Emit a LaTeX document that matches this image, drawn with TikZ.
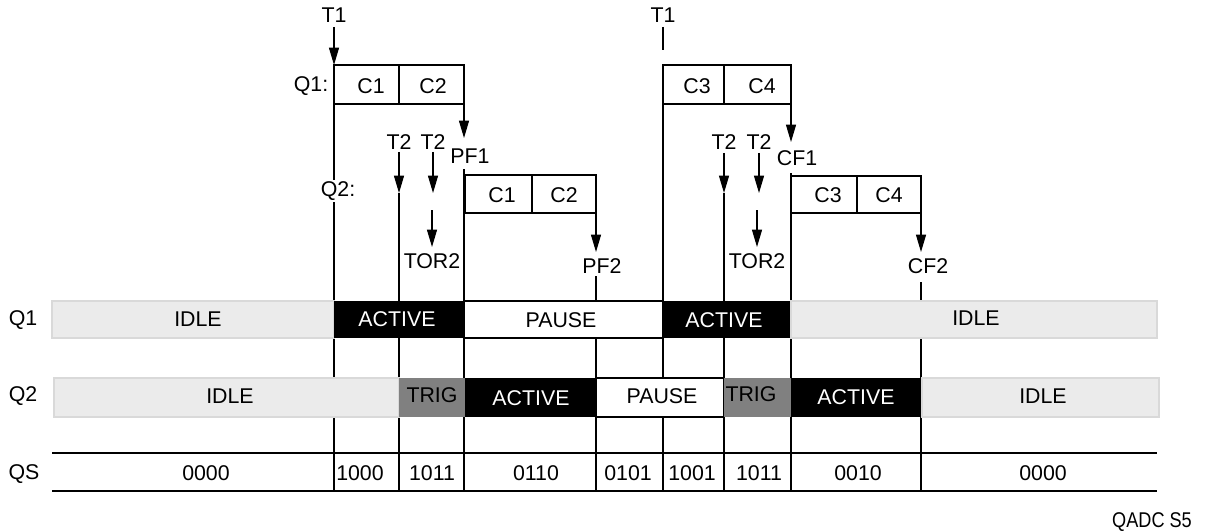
\documentclass[tikz,border=0pt]{standalone}
\usepackage{fontspec}
\setmainfont{Liberation Sans}
\usepackage{graphicx}
\usetikzlibrary{arrows.meta}
\definecolor{idlefill}{HTML}{EBEBEB}
\definecolor{idledraw}{HTML}{D9D9D9}
\definecolor{trigfill}{HTML}{808080}
\begin{document}
\begin{tikzpicture}[x=0.75pt,y=-0.75pt,
  txt/.style={font=\fontsize{16}{19}\selectfont, inner sep=0pt},
  wtxt/.style={txt, text=white},
  thinl/.style={line width=0.85pt},
  thickl/.style={line width=1.9pt},
  arr/.style={line width=0.85pt,-{Triangle[length=13pt,width=7.5pt]}},
  cellbox/.style={line width=1.4pt},
  idle/.style={fill=idlefill, draw=idledraw, line width=1.1pt},
  act/.style={fill=black},
  trig/.style={fill=trigfill},
  pausebox/.style={fill=white, draw=black, line width=1.5pt},
  rule/.style={line width=1.8pt},
]
\useasboundingbox (0,0) rectangle (1212,531);

% ---------- named coordinates ----------
\coordinate (t1aS) at (334,27);
\coordinate (q1aNW) at (334,65);
\coordinate (q1aSW) at (334,104);
\coordinate (q1aSE) at (464,104);
\coordinate (pf1tip) at (464,138);
\coordinate (pf1S) at (464,169);
\coordinate (q2aNW) at (464,175);
\coordinate (q2aSE) at (596,213);
\coordinate (pf2tip) at (596,252);
\coordinate (pf2S) at (596,276);
\coordinate (t1bS) at (663,27);
\coordinate (t1bE) at (663,50);
\coordinate (q1bSW) at (663,104);
\coordinate (q1bSE) at (791,104);
\coordinate (cf1tip) at (791,142);
\coordinate (cf1S) at (791,173);
\coordinate (q2bSE) at (921,213);
\coordinate (cf2tip) at (921,252);
\coordinate (cf2S) at (921,282);
\coordinate (t2aS) at (399,152);
\coordinate (t2aT) at (399,193);
\coordinate (t2bS) at (433,152);
\coordinate (t2bT) at (433,193);
\coordinate (tor2aS) at (432,210);
\coordinate (tor2aT) at (432,247);
\coordinate (t2cS) at (724,153);
\coordinate (t2cT) at (724,193);
\coordinate (t2dS) at (759,153);
\coordinate (t2dT) at (759,193);
\coordinate (tor2bS) at (757,210);
\coordinate (tor2bT) at (757,247);
\coordinate (b334) at (334,491);
\coordinate (b399) at (399,491);
\coordinate (b464) at (464,491);
\coordinate (b596) at (596,490);
\coordinate (b663) at (663,491);
\coordinate (b724) at (724,491);
\coordinate (b791) at (791,491);
\coordinate (b921) at (921,491);
\coordinate (qsTL) at (52,453);
\coordinate (qsTR) at (1157,453);
\coordinate (qsBL) at (52,491);
\coordinate (qsBR) at (1157,491);

% ---------- time lines ----------
\draw[thinl] (q1aSW) -- (b334);
\draw[arr] (t2aS) -- (t2aT);
\draw[thinl] (t2aT) -- (b399);
\draw[arr] (t2bS) -- (t2bT);
\draw[arr] (tor2aS) -- (tor2aT);
\draw[arr] (q1aSE) -- (pf1tip);
\draw[thickl] (pf1S) -- (b464);
\draw[arr] (q2aSE) -- (pf2tip);
\draw[thickl] (pf2S) -- (b596);
\draw[thinl] (t1bS) -- (t1bE);
\draw[thickl] (q1bSW) -- (b663);
\draw[arr] (t2cS) -- (t2cT);
\draw[thinl] (t2cT) -- (b724);
\draw[arr] (t2dS) -- (t2dT);
\draw[arr] (tor2bS) -- (tor2bT);
\draw[arr] (q1bSE) -- (cf1tip);
\draw[thinl] (cf1S) -- (b791);
\draw[arr] (q2bSE) -- (cf2tip);
\draw[thinl] (cf2S) -- (b921);
\draw[arr] (t1aS) -- (q1aNW);

% ---------- conversion boxes ----------
\draw[cellbox] (334,65) rectangle (464,104);
\draw[cellbox] (399,65) -- (399,104);
\draw[cellbox] (663,65) rectangle (791,104);
\draw[cellbox] (724,65) -- (724,104);
\draw[cellbox] (465,175) rectangle (596,213);
\draw[cellbox] (532,175) -- (532,213);
\draw[cellbox] (791,176) rectangle (921,213);
\draw[cellbox] (857,176) -- (857,213);

\node[txt] (c1a) at (371,86) {C1};
\node[txt] (c2a) at (433,86) {C2};
\node[txt] (c3a) at (697,86) {C3};
\node[txt] (c4a) at (762,86) {C4};
\node[txt] (c1b) at (502,195) {C1};
\node[txt] (c2b) at (564,195) {C2};
\node[txt] (c3b) at (828,195) {C3};
\node[txt] (c4b) at (889,195) {C4};

% ---------- event labels ----------
\node[txt] (t1a) at (334,15) {T1};
\node[txt] (t1b) at (663,15) {T1};
\node[txt] (q1lab) at (311,86) {Q1:};
\node[txt, fill=white, inner sep=1pt] (q2lab) at (338,191) {Q2:};
\node[txt] (t2a) at (399,142) {T2};
\node[txt] (t2b) at (433,142) {T2};
\node[txt] (pf1) at (470,156) {PF1};
\node[txt] (tor2a) at (432,261) {TOR2};
\node[txt] (pf2) at (602,266) {PF2};
\node[txt] (t2c) at (724,142) {T2};
\node[txt] (t2d) at (759,142) {T2};
\node[txt] (cf1) at (797,158) {CF1};
\node[txt] (tor2b) at (757,261) {TOR2};
\node[txt] (cf2) at (928,266) {CF2};

% ---------- Q1 state bar ----------
\draw[idle] (52,301) rectangle (334,338);
\fill[act] (334,301) rectangle (464,338);
\draw[pausebox] (464,301) rectangle (663,338);
\fill[act] (663,301) rectangle (791,338);
\draw[idle] (791,301) rectangle (1157,338);
\node[txt] (q1s1) at (198,319) {IDLE};
\node[wtxt] (q1s2) at (397,319) {ACTIVE};
\node[txt] (q1s3) at (561,320) {PAUSE};
\node[wtxt] (q1s4) at (724,320) {ACTIVE};
\node[txt] (q1s5) at (976,318) {IDLE};

% ---------- Q2 state bar ----------
\draw[idle] (54,378) rectangle (399,417);
\fill[trig] (399,378) rectangle (465,417);
\fill[act] (465,378) rectangle (596,417);
\draw[pausebox] (596,378) rectangle (724,417);
\fill[trig] (724,378) rectangle (791,417);
\fill[act] (791,378) rectangle (922,417);
\draw[idle] (922,378) rectangle (1159,417);
\node[txt] (q2s1) at (230,396) {IDLE};
\node[txt] (q2s2) at (432,395) {TRIG};
\node[wtxt] (q2s3) at (531,398) {ACTIVE};
\node[txt] (q2s4) at (662,396) {PAUSE};
\node[txt] (q2s5) at (751,394) {TRIG};
\node[wtxt] (q2s6) at (856,397) {ACTIVE};
\node[txt] (q2s7) at (1043,396) {IDLE};

% ---------- QS row ----------
\draw[rule] (qsTL) -- (qsTR);
\draw[rule] (qsBL) -- (qsBR);
\node[txt] (qs1) at (206,473) {0000};
\node[txt] (qs2) at (360,473) {1000};
\node[txt] (qs3) at (432,473) {1011};
\node[txt] (qs4) at (536,473) {0110};
\node[txt] (qs5) at (628,473) {0101};
\node[txt] (qs6) at (692,473) {1001};
\node[txt] (qs7) at (759,473) {1011};
\node[txt] (qs8) at (858,473) {0010};
\node[txt] (qs9) at (1043,473) {0000};

% ---------- row labels ----------
\node[txt] (rq1) at (23,320) {Q1};
\node[txt] (rq2) at (23,396) {Q2};
\node[txt] (rqs) at (24,474) {QS};
\node[txt] (fig) at (1152,522) {\scalebox{0.85}[1]{QADC S5}};
\end{tikzpicture}
\end{document}
